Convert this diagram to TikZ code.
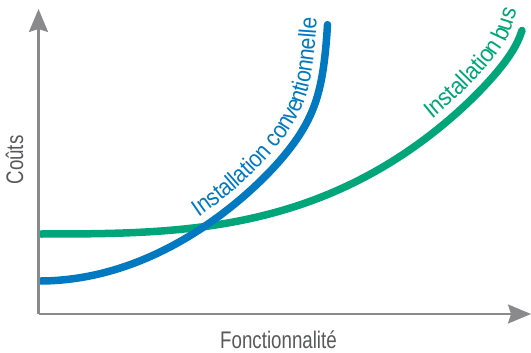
\documentclass[tikz,border=0pt]{standalone}
\usepackage{fontspec}
\newfontfamily\lblfont[FakeStretch=0.78]{Liberation Sans}
\newfontfamily\bluefont[FakeStretch=0.88]{Liberation Sans}
\newfontfamily\greenfont[FakeStretch=0.92]{Liberation Sans}
\usetikzlibrary{arrows.meta,decorations.text}
\definecolor{axisgray}{RGB}{138,138,140}
\definecolor{txtgray}{RGB}{88,89,91}
\definecolor{cblue}{RGB}{0,121,193}
\definecolor{cgreen}{RGB}{0,166,121}
\newcommand{\lblsize}{\fontsize{9.6}{11}\selectfont}
\tikzset{
  declare function={
    bluef(\t)=281-19.39*((\t-41)/100)^2-646*(1/(334-\t)-1/293);
    greenf(\t)=234-1.653*((\t-41)/100)^3-200*(1/(532-\t)-1/491);
  },
  axisline/.style={draw=axisgray, line width=1pt, -{Stealth[length=9.2pt,width=7.6pt,inset=1.2pt]}},
  curveline/.style={line width=3pt, line cap=round, line join=round},
  axislabel/.style={text=txtgray, font=\lblfont\lblsize, inner sep=0pt, anchor=base},
}
\begin{document}
\begin{tikzpicture}[x=0.4pt,y=-0.4pt]
\useasboundingbox (0,0) rectangle (531,352);
\coordinate (O) at (38.5,314);
\coordinate (ytip) at (38.5,9);
\coordinate (xtip) at (531,314);
% green curve
\draw[curveline, draw=cgreen]
  plot[domain=41:522, samples=200] (\x,{greenf(\x)});
\path[decorate, decoration={text along path,
   text={|\greenfont\lblsize\color{cgreen}|Installation bus},
   text align={left indent=9.6pt}, raise=4.4pt}]
  plot[domain=420:522, samples=60] (\x,{greenf(\x)}) -- ++(6,-19);
% blue curve
\draw[curveline, draw=cblue]
  plot[domain=41:300, samples=120] (\x,{bluef(\x)})
  -- plot[domain=300.5:327.5, samples=80] (\x,{bluef(\x)});
\path[decorate, decoration={text along path,
   text={|\bluefont\lblsize\color{cblue}|Installation conventionnelle},
   text align={left indent=0.4pt}, raise=4.4pt}]
  plot[domain=204:300, samples=60] (\x,{bluef(\x)})
  -- plot[domain=300.5:327.5, samples=80] (\x,{bluef(\x)}) -- ++(1.5,-25);
% axes
\draw[axisline] (O) -- (ytip);
\draw[axisline] (O) -- (xtip);
\node[axislabel] (xlabel) at (278.5,348) {Fonctionnalité};
\node[axislabel, rotate=90] (ylabel) at (23,160) {Coûts};
\end{tikzpicture}
\end{document}
